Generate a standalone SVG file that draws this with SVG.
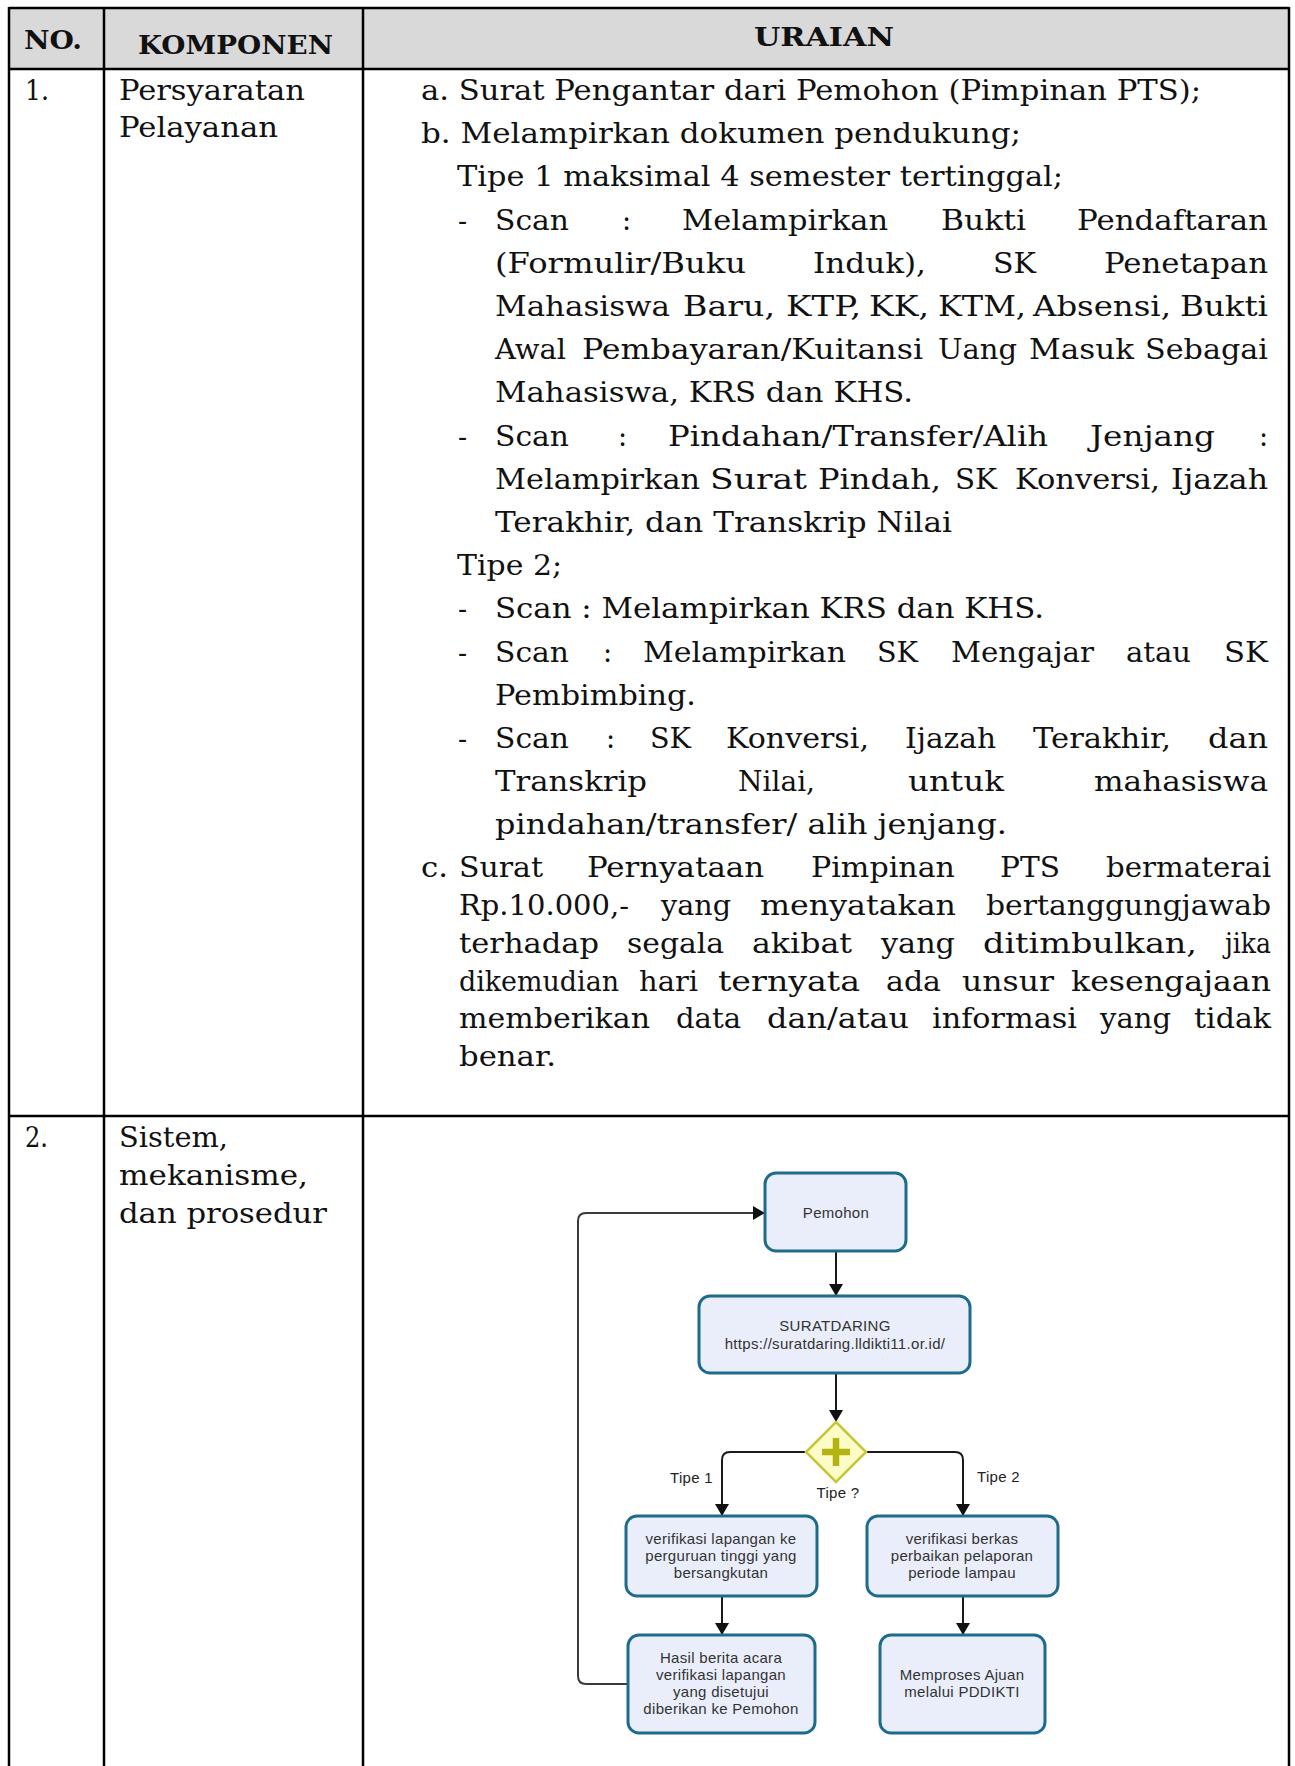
<svg xmlns="http://www.w3.org/2000/svg" width="1295" height="1766" viewBox="0 0 1295 1766">
  <style>
    .t { font-family: "DejaVu Serif", "Liberation Serif", serif; font-size: 27px; fill: #111; }
    .h { font-family: "DejaVu Serif", "Liberation Serif", serif; font-weight: bold; font-size: 26px; fill: #111; }
    .grid line { stroke: #000; stroke-width: 2.5; }
    .box { fill: #e9eefa; stroke: #1e6b8c; stroke-width: 3; }
    .ft { font-family: "Liberation Sans", Arial, sans-serif; font-size: 15px; letter-spacing: 0.3px; fill: #333; text-anchor: middle; }
    .lbl { font-family: "Liberation Sans", Arial, sans-serif; font-size: 15px; letter-spacing: 0.3px; fill: #222; }
    .conn { fill: none; stroke: #1a1a1a; stroke-width: 2; }
  </style>
  <defs>
    <marker id="ah" viewBox="0 0 12 14" refX="12" refY="7" markerWidth="12" markerHeight="14" markerUnits="userSpaceOnUse" orient="auto">
      <path d="M0,0 L12,7 L0,14 z" fill="#111"/>
    </marker>
  </defs>

  <rect width="1295" height="1766" fill="#fff"/>

  <!-- table frame -->
  <g id="table-grid" class="grid">
    <rect x="9" y="8" width="1280" height="61" fill="#d9d9d9"/>
    <line x1="9" y1="8" x2="1289" y2="8"/>
    <line x1="9" y1="69" x2="1289" y2="69"/>
    <line x1="9" y1="1116" x2="1289" y2="1116"/>
    <line x1="9" y1="7" x2="9" y2="1766"/>
    <line x1="104" y1="7" x2="104" y2="1766"/>
    <line x1="363" y1="7" x2="363" y2="1766"/>
    <line x1="1289" y1="7" x2="1289" y2="1766"/>
  </g>

  <!-- header row -->
  <g id="header">
    <text class="h" x="24" y="49" textLength="58" lengthAdjust="spacingAndGlyphs">NO.</text>
    <text class="h" x="138" y="54" textLength="195" lengthAdjust="spacingAndGlyphs">KOMPONEN</text>
    <text class="h" x="754" y="46" textLength="140" lengthAdjust="spacingAndGlyphs">URAIAN</text>
  </g>

  <!-- row 1: requirements (justified lines are set word by word) -->
  <g id="row1">
    <text class="t" x="25" y="100" textLength="24" lengthAdjust="spacingAndGlyphs">1.</text>
    <text class="t" x="119" y="100" textLength="186" lengthAdjust="spacingAndGlyphs">Persyaratan</text>
    <text class="t" x="119" y="137" textLength="159" lengthAdjust="spacingAndGlyphs">Pelayanan</text>

    <text class="t" x="421" y="100" textLength="780" lengthAdjust="spacingAndGlyphs">a. Surat Pengantar dari Pemohon (Pimpinan PTS);</text>
    <text class="t" x="421" y="143" textLength="600" lengthAdjust="spacingAndGlyphs">b. Melampirkan dokumen pendukung;</text>
    <text class="t" x="457" y="186" textLength="606" lengthAdjust="spacingAndGlyphs">Tipe 1 maksimal 4 semester tertinggal;</text>

    <g>
      <text class="t" x="458" y="230">-</text>
      <text class="t" x="495" y="230" textLength="74" lengthAdjust="spacingAndGlyphs">Scan</text>
      <text class="t" x="622" y="230">:</text>
      <text class="t" x="682" y="230" textLength="206" lengthAdjust="spacingAndGlyphs">Melampirkan</text>
      <text class="t" x="941" y="230" textLength="85" lengthAdjust="spacingAndGlyphs">Bukti</text>
      <text class="t" x="1077" y="230" textLength="191" lengthAdjust="spacingAndGlyphs">Pendaftaran</text>
    </g>
    <g>
      <text class="t" x="495" y="273" textLength="251" lengthAdjust="spacingAndGlyphs">(Formulir/Buku</text>
      <text class="t" x="813" y="273" textLength="113" lengthAdjust="spacingAndGlyphs">Induk),</text>
      <text class="t" x="993" y="273" textLength="43" lengthAdjust="spacingAndGlyphs">SK</text>
      <text class="t" x="1104" y="273" textLength="164" lengthAdjust="spacingAndGlyphs">Penetapan</text>
    </g>
    <g>
      <text class="t" x="495" y="316" textLength="175" lengthAdjust="spacingAndGlyphs">Mahasiswa</text>
      <text class="t" x="683" y="316" textLength="92" lengthAdjust="spacingAndGlyphs">Baru,</text>
      <text class="t" x="786" y="316" textLength="75" lengthAdjust="spacingAndGlyphs">KTP,</text>
      <text class="t" x="869" y="316" textLength="60" lengthAdjust="spacingAndGlyphs">KK,</text>
      <text class="t" x="938" y="316" textLength="88" lengthAdjust="spacingAndGlyphs">KTM,</text>
      <text class="t" x="1033" y="316" textLength="138" lengthAdjust="spacingAndGlyphs">Absensi,</text>
      <text class="t" x="1180" y="316" textLength="88" lengthAdjust="spacingAndGlyphs">Bukti</text>
    </g>
    <g>
      <text class="t" x="495" y="359" textLength="71" lengthAdjust="spacingAndGlyphs">Awal</text>
      <text class="t" x="582" y="359" textLength="341" lengthAdjust="spacingAndGlyphs">Pembayaran/Kuitansi</text>
      <text class="t" x="938" y="359" textLength="79" lengthAdjust="spacingAndGlyphs">Uang</text>
      <text class="t" x="1029" y="359" textLength="105" lengthAdjust="spacingAndGlyphs">Masuk</text>
      <text class="t" x="1145" y="359" textLength="123" lengthAdjust="spacingAndGlyphs">Sebagai</text>
    </g>
    <text class="t" x="495" y="402" textLength="418" lengthAdjust="spacingAndGlyphs">Mahasiswa, KRS dan KHS.</text>

    <g>
      <text class="t" x="458" y="446">-</text>
      <text class="t" x="495" y="446" textLength="74" lengthAdjust="spacingAndGlyphs">Scan</text>
      <text class="t" x="618" y="446">:</text>
      <text class="t" x="668" y="446" textLength="380" lengthAdjust="spacingAndGlyphs">Pindahan/Transfer/Alih</text>
      <text class="t" x="1090" y="446" textLength="125" lengthAdjust="spacingAndGlyphs">Jenjang</text>
      <text class="t" x="1259" y="446">:</text>
    </g>
    <g>
      <text class="t" x="495" y="489" textLength="205" lengthAdjust="spacingAndGlyphs">Melampirkan</text>
      <text class="t" x="710" y="489" textLength="97" lengthAdjust="spacingAndGlyphs">Surat</text>
      <text class="t" x="818" y="489" textLength="123" lengthAdjust="spacingAndGlyphs">Pindah,</text>
      <text class="t" x="955" y="489" textLength="42" lengthAdjust="spacingAndGlyphs">SK</text>
      <text class="t" x="1015" y="489" textLength="145" lengthAdjust="spacingAndGlyphs">Konversi,</text>
      <text class="t" x="1171" y="489" textLength="97" lengthAdjust="spacingAndGlyphs">Ijazah</text>
    </g>
    <text class="t" x="495" y="532" textLength="457" lengthAdjust="spacingAndGlyphs">Terakhir, dan Transkrip Nilai</text>

    <text class="t" x="457" y="575" textLength="105" lengthAdjust="spacingAndGlyphs">Tipe 2;</text>
    <text class="t" x="458" y="618">-</text>
    <text class="t" x="495" y="618" textLength="549" lengthAdjust="spacingAndGlyphs">Scan : Melampirkan KRS dan KHS.</text>

    <g>
      <text class="t" x="458" y="662">-</text>
      <text class="t" x="495" y="662" textLength="74" lengthAdjust="spacingAndGlyphs">Scan</text>
      <text class="t" x="603" y="662">:</text>
      <text class="t" x="643" y="662" textLength="203" lengthAdjust="spacingAndGlyphs">Melampirkan</text>
      <text class="t" x="877" y="662" textLength="41" lengthAdjust="spacingAndGlyphs">SK</text>
      <text class="t" x="951" y="662" textLength="143" lengthAdjust="spacingAndGlyphs">Mengajar</text>
      <text class="t" x="1126" y="662" textLength="65" lengthAdjust="spacingAndGlyphs">atau</text>
      <text class="t" x="1224" y="662" textLength="44" lengthAdjust="spacingAndGlyphs">SK</text>
    </g>
    <text class="t" x="495" y="705" textLength="201" lengthAdjust="spacingAndGlyphs">Pembimbing.</text>

    <g>
      <text class="t" x="458" y="748">-</text>
      <text class="t" x="495" y="748" textLength="74" lengthAdjust="spacingAndGlyphs">Scan</text>
      <text class="t" x="606" y="748">:</text>
      <text class="t" x="650" y="748" textLength="41" lengthAdjust="spacingAndGlyphs">SK</text>
      <text class="t" x="726" y="748" textLength="143" lengthAdjust="spacingAndGlyphs">Konversi,</text>
      <text class="t" x="905" y="748" textLength="91" lengthAdjust="spacingAndGlyphs">Ijazah</text>
      <text class="t" x="1033" y="748" textLength="138" lengthAdjust="spacingAndGlyphs">Terakhir,</text>
      <text class="t" x="1208" y="748" textLength="60" lengthAdjust="spacingAndGlyphs">dan</text>
    </g>
    <g>
      <text class="t" x="495" y="791" textLength="152" lengthAdjust="spacingAndGlyphs">Transkrip</text>
      <text class="t" x="738" y="791" textLength="77" lengthAdjust="spacingAndGlyphs">Nilai,</text>
      <text class="t" x="908" y="791" textLength="96" lengthAdjust="spacingAndGlyphs">untuk</text>
      <text class="t" x="1094" y="791" textLength="174" lengthAdjust="spacingAndGlyphs">mahasiswa</text>
    </g>
    <text class="t" x="495" y="834" textLength="512" lengthAdjust="spacingAndGlyphs">pindahan/transfer/ alih jenjang.</text>

    <g>
      <text class="t" x="421" y="877" textLength="27" lengthAdjust="spacingAndGlyphs">c.</text>
      <text class="t" x="459" y="877" textLength="84" lengthAdjust="spacingAndGlyphs">Surat</text>
      <text class="t" x="587" y="877" textLength="177" lengthAdjust="spacingAndGlyphs">Pernyataan</text>
      <text class="t" x="811" y="877" textLength="144" lengthAdjust="spacingAndGlyphs">Pimpinan</text>
      <text class="t" x="1000" y="877" textLength="60" lengthAdjust="spacingAndGlyphs">PTS</text>
      <text class="t" x="1106" y="877" textLength="165" lengthAdjust="spacingAndGlyphs">bermaterai</text>
    </g>
    <g>
      <text class="t" x="459" y="915" textLength="170" lengthAdjust="spacingAndGlyphs">Rp.10.000,-</text>
      <text class="t" x="661" y="915" textLength="70" lengthAdjust="spacingAndGlyphs">yang</text>
      <text class="t" x="760" y="915" textLength="196" lengthAdjust="spacingAndGlyphs">menyatakan</text>
      <text class="t" x="986" y="915" textLength="285" lengthAdjust="spacingAndGlyphs">bertanggungjawab</text>
    </g>
    <g>
      <text class="t" x="459" y="953" textLength="140" lengthAdjust="spacingAndGlyphs">terhadap</text>
      <text class="t" x="627" y="953" textLength="97" lengthAdjust="spacingAndGlyphs">segala</text>
      <text class="t" x="752" y="953" textLength="100" lengthAdjust="spacingAndGlyphs">akibat</text>
      <text class="t" x="881" y="953" textLength="74" lengthAdjust="spacingAndGlyphs">yang</text>
      <text class="t" x="983" y="953" textLength="214" lengthAdjust="spacingAndGlyphs">ditimbulkan,</text>
      <text class="t" x="1225" y="953" textLength="46" lengthAdjust="spacingAndGlyphs">jika</text>
    </g>
    <g>
      <text class="t" x="459" y="991" textLength="160" lengthAdjust="spacingAndGlyphs">dikemudian</text>
      <text class="t" x="639" y="991" textLength="59" lengthAdjust="spacingAndGlyphs">hari</text>
      <text class="t" x="718" y="991" textLength="142" lengthAdjust="spacingAndGlyphs">ternyata</text>
      <text class="t" x="886" y="991" textLength="55" lengthAdjust="spacingAndGlyphs">ada</text>
      <text class="t" x="962" y="991" textLength="92" lengthAdjust="spacingAndGlyphs">unsur</text>
      <text class="t" x="1071" y="991" textLength="200" lengthAdjust="spacingAndGlyphs">kesengajaan</text>
    </g>
    <g>
      <text class="t" x="459" y="1028" textLength="191" lengthAdjust="spacingAndGlyphs">memberikan</text>
      <text class="t" x="676" y="1028" textLength="65" lengthAdjust="spacingAndGlyphs">data</text>
      <text class="t" x="767" y="1028" textLength="142" lengthAdjust="spacingAndGlyphs">dan/atau</text>
      <text class="t" x="932" y="1028" textLength="145" lengthAdjust="spacingAndGlyphs">informasi</text>
      <text class="t" x="1100" y="1028" textLength="71" lengthAdjust="spacingAndGlyphs">yang</text>
      <text class="t" x="1194" y="1028" textLength="77" lengthAdjust="spacingAndGlyphs">tidak</text>
    </g>
    <text class="t" x="459" y="1066" textLength="97" lengthAdjust="spacingAndGlyphs">benar.</text>
  </g>

  <!-- row 2: procedure -->
  <g id="row2">
    <text class="t" x="25" y="1147" textLength="23" lengthAdjust="spacingAndGlyphs">2.</text>
    <text class="t" x="119" y="1147" textLength="109" lengthAdjust="spacingAndGlyphs">Sistem,</text>
    <text class="t" x="119" y="1185" textLength="189" lengthAdjust="spacingAndGlyphs">mekanisme,</text>
    <text class="t" x="119" y="1223" textLength="208" lengthAdjust="spacingAndGlyphs">dan prosedur</text>
  </g>

  <!-- flowchart connectors -->
  <g id="connectors" class="conn">
    <path d="M836,1251 V1296" marker-end="url(#ah)"/>
    <path d="M836,1373 V1422" marker-end="url(#ah)"/>
    <path d="M806,1452 H730 Q722,1452 722,1460 V1516" marker-end="url(#ah)"/>
    <path d="M866,1452 H955 Q963,1452 963,1460 V1516" marker-end="url(#ah)"/>
    <path d="M722,1596 V1635" marker-end="url(#ah)"/>
    <path d="M963,1596 V1635" marker-end="url(#ah)"/>
    <path d="M628,1684 H586 Q578,1684 578,1676 V1221 Q578,1213 586,1213 H765" stroke="#3a3a3a" marker-end="url(#ah)"/>
  </g>

  <!-- flowchart nodes -->
  <g id="node-pemohon">
    <rect class="box" x="765" y="1173" width="141" height="78" rx="11"/>
    <text class="ft" x="836" y="1218">Pemohon</text>
  </g>
  <g id="node-suratdaring">
    <rect class="box" x="699" y="1296" width="271" height="77" rx="11"/>
    <text class="ft" x="835" y="1331">SURATDARING</text>
    <text class="ft" x="835" y="1349">https://suratdaring.lldikti11.or.id/</text>
  </g>
  <g id="node-gateway">
    <polygon points="836,1422 866,1452 836,1482 806,1452" fill="#fcfcc6" stroke="#c6c63a" stroke-width="2.5"/>
    <path d="M822,1452 H850 M836,1438 V1466" stroke="#b3b314" stroke-width="6.5"/>
  </g>
  <g id="edge-labels">
    <text class="lbl" x="713" y="1483" text-anchor="end">Tipe 1</text>
    <text class="lbl" x="977" y="1482">Tipe 2</text>
    <text class="lbl" x="838" y="1498" text-anchor="middle">Tipe ?</text>
  </g>
  <g id="node-verif-lapangan">
    <rect class="box" x="626" y="1516" width="191" height="80" rx="11"/>
    <text class="ft" x="721" y="1544">verifikasi lapangan ke</text>
    <text class="ft" x="721" y="1561">perguruan tinggi yang</text>
    <text class="ft" x="721" y="1578">bersangkutan</text>
  </g>
  <g id="node-verif-berkas">
    <rect class="box" x="867" y="1516" width="191" height="80" rx="11"/>
    <text class="ft" x="962" y="1544">verifikasi berkas</text>
    <text class="ft" x="962" y="1561">perbaikan pelaporan</text>
    <text class="ft" x="962" y="1578">periode lampau</text>
  </g>
  <g id="node-hasil">
    <rect class="box" x="628" y="1635" width="187" height="98" rx="11"/>
    <text class="ft" x="721" y="1663">Hasil berita acara</text>
    <text class="ft" x="721" y="1680">verifikasi lapangan</text>
    <text class="ft" x="721" y="1697">yang disetujui</text>
    <text class="ft" x="721" y="1714">diberikan ke Pemohon</text>
  </g>
  <g id="node-memproses">
    <rect class="box" x="880" y="1635" width="165" height="98" rx="11"/>
    <text class="ft" x="962" y="1680">Memproses Ajuan</text>
    <text class="ft" x="962" y="1697">melalui PDDIKTI</text>
  </g>
</svg>
